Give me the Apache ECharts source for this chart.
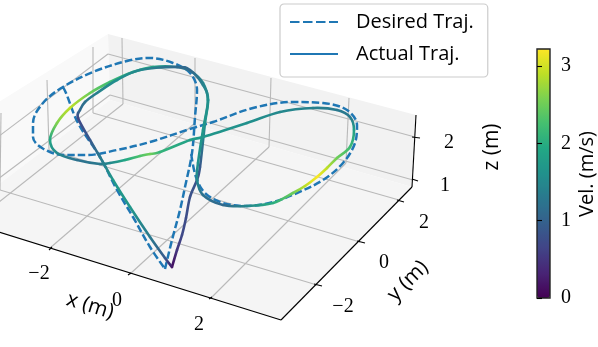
<!DOCTYPE html>
<html><head><meta charset="utf-8">
<style>html,body{margin:0;padding:0;background:#fff}#c{width:598px;height:347px}</style>
<script src="https://cdn.jsdelivr.net/npm/echarts@6/dist/echarts.min.js"></script>
</head><body><div id="c"></div>
<script>
// Values, in the projected plane of the view
// (the retraced stretch of the desired path is drawn once; '-' marks the break)
const desiredX=[165,172,180,185,192,195,197,190,173,150,127,93,63,43,33,33,42,63,87,117,150,193,213,253,293,323,347,357,355,343,323,297,273,247,223,205,196,191,'-',63,66,78,100,117,133,150,165];
const desiredY=[269,240,210,187,153,117,90,73,63,58,61,72,87,103,123,137,148,155,155,150,142,128,122,108,102,103,110,125,143,163,180,193,202,206,203,193,177,153,'-',87,93,123,157,190,217,247,269];
const actualX=[172,177,182,186,190,197,200,205,208,203,192,177,153,133,110,90,70,57,50,57,77,100,110,125,140,150,160,190,203,247,280,313,337,350,354,350,337,327,317,305,293,273,247,223,203,197,198,203,208,203,190,177,140,117,97,85,80,78,90,100,113,130,150,165,172];
const actualY=[267,250,235,218,197,180,167,123,100,83,72,67,67,72,82,93,108,123,140,153,160,164,163,160,156,154,152,140,137,123,112,108,110,117,130,147,158,168,177,186,193,203,206,205,195,180,163,130,100,85,70,67,70,80,93,102,110,118,140,157,180,207,237,258,267];
const actualVel=[0.1,0.5,0.7,0.75,0.8,0.85,0.9,1.6,1.7,1.5,1.2,1.3,1.9,2.0,2.2,2.5,2.9,2.6,1.9,1.5,1.2,1.3,1.5,1.9,2.3,2.5,2.1,1.8,1.7,1.6,1.5,1.4,1.3,1.3,1.8,2.2,2.5,2.9,3.2,2.9,2.5,2.0,1.5,1.1,1.2,1.5,1.6,1.7,1.6,1.4,1.1,1.1,1.5,1.6,1.4,1.2,1.1,0.7,0.9,1.3,1.7,1.7,1.3,0.9,0.2];
const xTickLabels=['−2','0','2'];
const yTickLabels=['−2','0','2'];
const zTickLabels=['1','2'];
const cbarTicks=[0,1,2,3];
const cbarMax=3.22;
const viridis=['#440154','#482475','#414487','#355f8d','#2a788e','#21918c','#22a884','#44bf70','#7ad151','#bddf26','#fde725'];

// Panes of the 3D box
const panes=[
 {c:'#f9f9f9',p:[[108,34],[110,100],[-46,218],[-46,130]]},
 {c:'#f2f2f2',p:[[108,34],[416,115],[412,187],[110,100]]},
 {c:'#f5f5f5',p:[[110,100],[412,187],[281,320],[-46,218]]}
];
const gridSegs=[
 [[122,38],[123,104]],[[195,58],[195,123]],[[271,78],[269,147]],[[349,98],[346,163]],
 [[123,104],[-30,225]],[[195,123],[50,248]],[[269,147],[130,274]],[[346,163],[211,298]],
 [[93,47],[93,113]],[[47,80],[49,150]],[[1,113],[0,190]],
 [[93,113],[399,200]],[[49,150],[360,242]],[[0,190],[317,285]],
 [[108,54],[415,137]],[[110,95],[413,180]],
 [[108,54],[-46,170]],[[110,95],[-46,212]]
];
const axisSegs=[
 [[-46,218],[281,320]],[[281,320],[412,187]],[[412,187],[416,115]],
 [[49,250],[52,247]],[[128,275],[131,273]],[[209,299],[212,297]],
 [[314,284],[322,286]],[[357,241],[365,243]],[[397,200],[404,202]],
 [[412,179],[418,181]],[[412,137],[420,138]]
];
const serif='"Liberation Serif"', sans='"Open Sans"';
const texts=[
 [39,274,xTickLabels[0],0,serif,20],[117,301,xTickLabels[1],0,serif,20],[199,325,xTickLabels[2],0,serif,20],
 [343,307,yTickLabels[0],0,serif,20],[384,263,yTickLabels[1],0,serif,20],[424,223,yTickLabels[2],0,serif,20],
 [445,186,zTickLabels[0],0,serif,20],[449,143,zTickLabels[1],0,serif,20],
 [90,306,'x (m)',-17,sans,21],[408,281,'y (m)',45,sans,21],[492,147,'z (m)',90,sans,21],
 [587,174,'Vel. (m/s)',90,sans,20]
];

function lineSer(pts,color,width,z){
 return {type:'line',xAxisIndex:0,yAxisIndex:0,data:pts,symbol:'none',silent:true,animation:false,clip:false,z:z,
  lineStyle:{color:color,width:width},legendHoverLink:false};
}
const series=[];
series.push({type:'custom',xAxisIndex:0,yAxisIndex:0,silent:true,animation:false,clip:false,z:1,
 data:panes.map((_,i)=>[i]),
 renderItem:(params,api)=>{const pn=panes[params.dataIndex];
  return {type:'polygon',shape:{points:pn.p.map(q=>api.coord(q))},style:{fill:pn.c}};}});
gridSegs.forEach(s=>series.push(lineSer(s,'#b9b9b9',1.1,2)));
axisSegs.forEach(s=>series.push(lineSer(s,'#000',1.1,3)));
// Desired
series.push({type:'line',name:'Desired Traj.',xAxisIndex:0,yAxisIndex:0,
 data:desiredX.map((x,i)=>x==='-'?['-','-']:[x,desiredY[i]]),connectNulls:false,symbol:'none',smooth:0.35,silent:true,animation:false,clip:false,z:4,
 color:'#1f77b4',itemStyle:{opacity:0},lineStyle:{color:'#1f77b4',width:2.5,type:[7.5,3]}});
// Legend entry of the actual path
series.push({type:'line',name:'Actual Traj.',xAxisIndex:0,yAxisIndex:0,data:[],symbol:'none',silent:true,animation:false,
 color:'#1f77b4',itemStyle:{opacity:0},lineStyle:{color:'#1f77b4',width:2.5}});
// Actual path, colour mapped by velocity
const actualData=actualX.map((x,i)=>[x,actualY[i],actualVel[i]]);
const actualIdx=series.length;
series.push({type:'custom',xAxisIndex:0,yAxisIndex:0,silent:true,animation:false,clip:false,z:5,
 data:actualData,encode:{x:0,y:1},
 renderItem:(params,api)=>{
  const i=params.dataIndex,n=actualData.length;
  if(i>=n-1) return null;
  const P=k=>api.coord(actualData[Math.max(0,Math.min(n-1,k))]);
  const a=P(i-1),b=P(i),c=P(i+1),d=P(i+2);
  return {type:'bezierCurve',shape:{x1:b[0],y1:b[1],x2:c[0],y2:c[1],
    cpx1:b[0]+(c[0]-a[0])/6,cpy1:b[1]+(c[1]-a[1])/6,cpx2:c[0]-(d[0]-b[0])/6,cpy2:c[1]-(d[1]-b[1])/6},
   style:{fill:null,lineWidth:2.6,lineCap:'round',
    stroke:{type:'linear',global:true,x:b[0],y:b[1],x2:c[0],y2:c[1],
     colorStops:[{offset:0,color:api.visual('color',i)},{offset:1,color:api.visual('color',i+1)}]}}};
 }});
// Text
series.push({type:'custom',xAxisIndex:0,yAxisIndex:0,silent:true,animation:false,clip:false,z:6,
 data:texts.map((_,i)=>[i]),
 renderItem:(params,api)=>{const t=texts[params.dataIndex],q=api.coord([t[0],t[1]]);
  return {type:'text',x:q[0],y:q[1],rotation:t[3]*Math.PI/180,
   style:{text:t[2],font:t[5]+'px '+t[4],fill:'#000',align:'center',verticalAlign:'middle'}};}});

const chart=echarts.init(document.getElementById('c'),null,{renderer:'canvas'});
chart.setOption({
 animation:false,backgroundColor:'#fff',
 grid:[{left:0,top:0,width:598,height:347,show:false},
       {left:537,top:49,width:13,height:249,show:true,borderColor:'#222',borderWidth:1.4,backgroundColor:'transparent',z:10}],
 xAxis:[{type:'value',min:0,max:598,show:false,gridIndex:0},{type:'value',min:0,max:1,show:false,gridIndex:1}],
 yAxis:[{type:'value',min:0,max:347,inverse:true,show:false,gridIndex:0},
  {type:'value',min:0,max:cbarMax,gridIndex:1,position:'right',z:10,
   axisLine:{show:false},splitLine:{show:false},
   axisTick:{show:true,length:5,inside:false,lineStyle:{color:'#000',width:1.1},customValues:cbarTicks},
   axisLabel:{show:true,margin:11,color:'#000',fontFamily:'Liberation Serif',fontSize:20,customValues:cbarTicks}}],
 visualMap:{type:'continuous',seriesIndex:actualIdx,dimension:2,min:0,max:cbarMax,
  left:537,top:49,itemWidth:13,itemHeight:249,padding:0,calculable:false,hoverLink:false,z:1,
  inRange:{color:viridis},text:null,showLabel:false},
 legend:{show:true,orient:'vertical',left:280,top:4,padding:[8,14,13,9],itemWidth:48,itemHeight:18,itemGap:12,
  backgroundColor:'rgba(255,255,255,0.85)',borderColor:'#ccc',borderWidth:1.2,borderRadius:4,z:20,
  textStyle:{fontFamily:'Open Sans',fontSize:20,color:'#000',padding:[0,0,0,13]},
  itemStyle:{opacity:0,borderWidth:0},
  data:[{name:'Desired Traj.',lineStyle:{type:[9.5,3.5]}},{name:'Actual Traj.'}],selectedMode:false},
 series:series
});
</script></body></html>
